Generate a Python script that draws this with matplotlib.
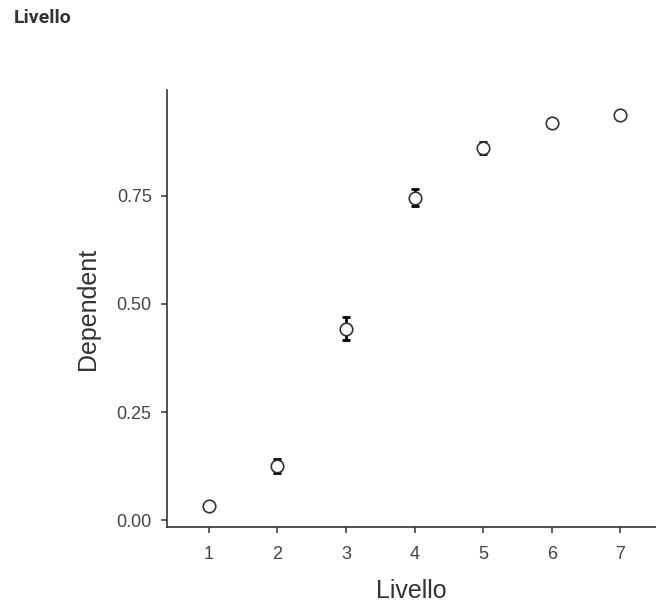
import numpy as np
import matplotlib
matplotlib.use("Agg")
import matplotlib.pyplot as plt

# estimated marginal means
livello = [1, 2, 3, 4, 5, 6, 7]
dependent = [0.032, 0.125, 0.443, 0.746, 0.861, 0.919, 0.938]
errore = [0.004, 0.016, 0.026, 0.020, 0.013, 0.005, 0.004]

plt.rcParams['font.family'] = ['Liberation Sans', 'DejaVu Sans']

fig = plt.figure(figsize=(6.56, 6.04), dpi=100)
ax = fig.add_axes([0.2546, 0.1275, 0.7454, 0.7235])

ax.errorbar(livello, dependent, yerr=errore, fmt='none', ecolor='black',
            elinewidth=2, capsize=3, capthick=2, zorder=2)
ax.plot(livello, dependent, 'o', markersize=9, markerfacecolor='white',
        markeredgecolor='#333333', markeredgewidth=1.2, zorder=3)

ax.set_xlim(0.39, 7.52)
ax.set_ylim(-0.016, 0.995)
ax.set_xticks(livello)
ax.set_yticks([0, 0.25, 0.5, 0.75])
ax.set_yticklabels(['0.00', '0.25', '0.50', '0.75'])

for side in ['top', 'right']:
    ax.spines[side].set_visible(False)
for side in ['left', 'bottom']:
    ax.spines[side].set_color('#333333')
    ax.spines[side].set_linewidth(1.2)
ax.tick_params(colors='#444444', labelsize=13, length=4, width=1.2)
ax.tick_params(axis='x', pad=10)
ax.tick_params(axis='y', pad=7)

ax.set_xlabel('Livello', fontsize=18, color='#333333', labelpad=11)
ax.set_ylabel('Dependent', fontsize=18, color='#333333', labelpad=12)

fig.text(0.021, 0.970, 'Livello', fontsize=14, fontweight='bold',
         color='#333333', family=['Roboto', 'DejaVu Sans'], va='center')

fig.savefig('out.png', dpi=100)
